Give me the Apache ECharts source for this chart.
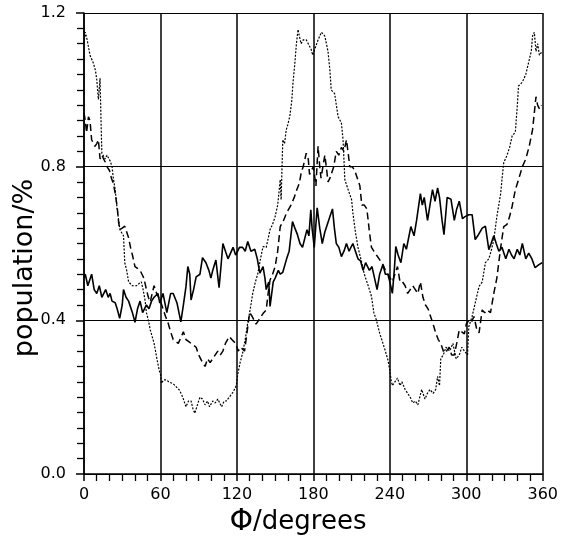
<!DOCTYPE html>
<html>
<head>
<meta charset="utf-8">
<script src="https://cdn.jsdelivr.net/npm/echarts@6/dist/echarts.min.js"></script>
<style>html,body{margin:0;padding:0;background:#fff}#c{width:561px;height:539px}</style>
</head>
<body>
<div id="c"></div>
<script>
const xTicks = [0, 60, 120, 180, 240, 300, 360];
const yTicks = [0.0, 0.4, 0.8, 1.2];
const xTitle = 'Φ/degrees';
const yTitle = 'population/%';

const solid = [[0,0.51],[1,0.52],[3,0.49],[6,0.52],[8,0.48],[10,0.47],[12,0.49],[14,0.46],[17,0.48],[19,0.46],[20.5,0.47],[22,0.45],[24.5,0.446],[26,0.43],[28,0.405],[30,0.44],[31,0.48],[33,0.46],[35,0.45],[38,0.42],[40,0.395],[42,0.43],[44,0.45],[46,0.42],[47,0.425],[49,0.44],[51,0.43],[53,0.45],[55,0.46],[58,0.47],[59.5,0.445],[61,0.45],[62,0.47],[65,0.42],[68,0.47],[70,0.47],[73,0.445],[76,0.396],[78,0.44],[80,0.487],[81.5,0.54],[83,0.52],[84,0.453],[86,0.48],[88,0.513],[91,0.52],[93,0.563],[95.7,0.55],[98,0.53],[99.6,0.51],[101,0.53],[103.5,0.557],[106,0.485],[107.5,0.54],[109,0.6],[111,0.58],[113,0.56],[115,0.575],[117,0.59],[119,0.57],[120.6,0.58],[122,0.59],[124.5,0.59],[126.5,0.58],[128.5,0.605],[131,0.58],[134,0.585],[136,0.56],[138,0.523],[140.5,0.54],[142,0.51],[143,0.48],[145,0.50],[146,0.436],[148.5,0.5],[150,0.51],[152.5,0.53],[154,0.52],[156,0.525],[159,0.56],[161,0.58],[163.6,0.657],[165.5,0.64],[167.5,0.623],[169.5,0.6],[171.5,0.59],[173,0.61],[175,0.636],[176.5,0.62],[178,0.688],[179,0.64],[180.7,0.59],[182,0.65],[183,0.693],[185,0.64],[187,0.6],[189,0.63],[191,0.65],[193,0.67],[195,0.69],[196.5,0.64],[198,0.6],[200,0.59],[202,0.566],[204,0.58],[206,0.6],[208,0.58],[211,0.6],[213,0.58],[215,0.56],[217,0.555],[219,0.53],[221,0.55],[224,0.53],[226,0.54],[228,0.51],[230,0.48],[232,0.52],[234.6,0.545],[236.5,0.52],[238.5,0.52],[240,0.5],[242,0.47],[243.5,0.53],[244.7,0.592],[246.5,0.57],[248.7,0.55],[251,0.6],[253,0.585],[256.5,0.644],[259,0.62],[261,0.66],[264,0.73],[265.5,0.7],[267,0.72],[269.6,0.66],[271.5,0.7],[273.5,0.74],[275.5,0.71],[277.5,0.745],[279,0.72],[281,0.66],[282.5,0.623],[284,0.68],[285,0.72],[288,0.715],[290.6,0.66],[292.5,0.69],[294.5,0.71],[297,0.665],[299,0.67],[302,0.675],[304.6,0.675],[307,0.61],[309,0.62],[312.5,0.64],[315,0.645],[317.7,0.584],[319.5,0.6],[321.6,0.62],[323.5,0.6],[325.6,0.58],[328,0.59],[331,0.56],[333.5,0.585],[335.5,0.57],[337.5,0.56],[340,0.585],[342,0.57],[344,0.6],[346.7,0.56],[349,0.575],[351.5,0.56],[354,0.537],[357,0.545],[359.5,0.55]];

const dashed = [[0,0.94],[1,0.92],[2,0.888],[3.5,0.93],[4.7,0.92],[6,0.87],[7.5,0.86],[8.6,0.853],[10,0.86],[11.3,0.87],[12.6,0.82],[14,0.83],[15.4,0.82],[17,0.81],[18,0.8],[20,0.79],[21.5,0.77],[23,0.757],[24.5,0.73],[26,0.697],[27,0.66],[28,0.636],[30,0.64],[32,0.645],[33.5,0.63],[35,0.615],[36.5,0.59],[38,0.57],[40,0.54],[42,0.535],[44,0.53],[45.5,0.52],[47,0.51],[49,0.48],[50.5,0.46],[52,0.448],[53.5,0.47],[55,0.49],[57,0.47],[58.5,0.46],[60,0.45],[62,0.43],[64,0.41],[66,0.393],[68,0.37],[70,0.35],[72,0.345],[74,0.34],[76,0.355],[78,0.37],[80,0.35],[82,0.345],[84,0.34],[86,0.335],[88,0.33],[90,0.31],[91,0.305],[93,0.29],[95,0.28],[97,0.3],[99,0.29],[101,0.3],[103,0.31],[105,0.32],[107,0.31],[109,0.32],[111,0.34],[114,0.358],[116,0.35],[117,0.35],[119,0.34],[121,0.32],[123,0.33],[126,0.32],[128,0.37],[130,0.42],[132,0.41],[135,0.39],[137,0.4],[139,0.41],[141,0.42],[143,0.427],[144.5,0.47],[146,0.505],[148,0.52],[150,0.54],[152,0.58],[154,0.644],[156.6,0.66],[159,0.68],[162,0.697],[165,0.72],[167,0.74],[169,0.757],[170.4,0.783],[172,0.8],[174.4,0.835],[176,0.82],[177,0.78],[178.5,0.79],[180,0.8],[182,0.75],[183.7,0.853],[185,0.8],[186,0.77],[187.5,0.8],[189,0.83],[190.5,0.79],[191.5,0.76],[193,0.77],[194,0.77],[196,0.8],[198,0.84],[200,0.83],[202,0.85],[204,0.84],[206,0.87],[207.5,0.83],[208.6,0.8],[210.5,0.8],[212.5,0.79],[214.5,0.77],[216.5,0.75],[218,0.7],[220,0.7],[222,0.69],[224,0.63],[225.6,0.59],[227.5,0.58],[229.5,0.57],[231.6,0.56],[234.6,0.545],[236.5,0.53],[238.5,0.52],[240,0.52],[242,0.5],[244,0.52],[246,0.54],[248,0.5],[250,0.5],[252,0.49],[254,0.47],[256,0.48],[258,0.49],[260,0.48],[262,0.47],[264,0.5],[266,0.46],[268,0.44],[270,0.43],[272,0.41],[274,0.39],[276,0.367],[278,0.35],[280,0.34],[282.5,0.315],[284.5,0.32],[286.6,0.33],[288.5,0.31],[290.6,0.31],[292.5,0.34],[294.5,0.375],[296.5,0.37],[298.5,0.365],[300,0.39],[302,0.4],[304,0.395],[306,0.41],[308,0.38],[310,0.367],[312.5,0.427],[314.5,0.42],[316.5,0.427],[319,0.42],[321.6,0.47],[324,0.51],[325.5,0.55],[327,0.59],[329.4,0.644],[332,0.65],[334,0.67],[336,0.697],[338.5,0.74],[341,0.766],[344,0.8],[346.7,0.82],[349.4,0.853],[352,0.896],[353.4,0.94],[354.7,0.982],[356,0.96],[357.5,0.95],[359,0.96]];

const dotted = [[0,1.12],[1,1.15],[2.5,1.13],[4.7,1.09],[7.3,1.07],[9,1.05],[10,1.027],[11.3,0.975],[12.6,1.03],[13.5,0.9],[14,0.835],[15.5,0.83],[16.6,0.82],[18,0.83],[19,0.83],[20.5,0.815],[22,0.8],[23,0.77],[24.5,0.74],[26,0.69],[28.2,0.636],[29.5,0.64],[31,0.62],[32,0.55],[33.5,0.53],[35,0.5],[38,0.49],[41.2,0.49],[43,0.495],[45,0.5],[46.4,0.48],[48,0.45],[49,0.42],[50.5,0.4],[52,0.375],[55,0.34],[57.4,0.297],[59,0.27],[60,0.26],[60.8,0.236],[62.5,0.245],[64.7,0.245],[66.5,0.24],[68,0.24],[70,0.235],[72,0.228],[75,0.218],[77.5,0.2],[80,0.175],[82,0.19],[84,0.19],[85.5,0.17],[87,0.158],[89,0.18],[91,0.2],[93,0.195],[95,0.18],[97,0.19],[98.5,0.175],[101,0.19],[103,0.185],[105,0.195],[106.5,0.185],[108,0.175],[110,0.19],[111.6,0.19],[114,0.2],[117,0.213],[119.5,0.23],[120.6,0.258],[122.5,0.29],[124.5,0.315],[126.5,0.35],[128.5,0.393],[130.5,0.43],[132.4,0.47],[134.5,0.5],[136.3,0.52],[138.5,0.56],[140.5,0.592],[143,0.59],[146,0.636],[148,0.65],[150,0.67],[152,0.7],[154,0.766],[154.7,0.714],[156,0.87],[157.4,0.86],[158.7,0.896],[160,0.91],[161.5,0.931],[163,0.97],[164,1.018],[165.5,1.07],[166.7,1.12],[168,1.157],[169,1.14],[170.4,1.12],[172,1.13],[174.4,1.13],[176,1.12],[178.3,1.105],[179.5,1.09],[181,1.105],[182.5,1.11],[183.7,1.13],[186.3,1.15],[189,1.14],[191.5,1.1],[193,1.05],[194,1.0],[196.7,0.99],[199.4,0.93],[202,0.914],[203.3,0.87],[204.7,0.766],[207.3,0.74],[210,0.714],[211,0.68],[213,0.63],[215,0.59],[218,0.55],[220,0.52],[222,0.5],[224,0.48],[225.6,0.462],[227.5,0.42],[229.5,0.4],[232,0.367],[234.6,0.34],[236.5,0.32],[238.5,0.297],[240,0.27],[241,0.245],[242,0.23],[244,0.24],[246,0.25],[248,0.23],[249.5,0.24],[252,0.22],[254,0.21],[256,0.2],[258,0.185],[260,0.19],[262,0.18],[263.5,0.2],[265,0.22],[267.6,0.195],[269.5,0.21],[271.5,0.22],[274,0.21],[276,0.22],[277.5,0.254],[279,0.23],[280,0.3],[282,0.31],[284,0.33],[287,0.32],[289.5,0.34],[292,0.3],[294.5,0.31],[296.5,0.33],[298.5,0.32],[301,0.31],[302,0.384],[304.6,0.41],[307,0.445],[310,0.488],[312.5,0.5],[315,0.55],[317.7,0.56],[319.5,0.58],[321.6,0.61],[324,0.67],[327,0.73],[328,0.766],[329.4,0.81],[332,0.83],[334,0.85],[336,0.88],[338.5,0.89],[340,0.956],[341,1.01],[344,1.02],[346.7,1.04],[349.4,1.078],[351,1.1],[352,1.14],[353.4,1.15],[354.7,1.1],[356,1.12],[357.4,1.09],[359.5,1.1]];

const FONT = 'DejaVu Sans';
const chart = echarts.init(document.getElementById('c'), null, {renderer: 'canvas'});
chart.setOption({
  animation: false,
  backgroundColor: '#fff',
  grid: {left: 84, right: 17, top: 13, bottom: 65},
  xAxis: {
    type: 'value', min: xTicks[0], max: xTicks[xTicks.length - 1], interval: xTicks[1] - xTicks[0],
    axisLine: {show: true, onZero: false, lineStyle: {color: '#000', width: 1.5}},
    axisTick: {show: true, inside: false, length: 7, lineStyle: {color: '#000', width: 1.5}},
    minorTick: {show: true, splitNumber: 6, length: 7, lineStyle: {color: '#000', width: 1.3}},
    splitLine: {show: true, lineStyle: {color: '#000', width: 1.5}},
    axisLabel: {color: '#000', fontSize: 16, fontFamily: FONT, margin: 13}
  },
  yAxis: {
    type: 'value', min: yTicks[0], max: yTicks[yTicks.length - 1], interval: yTicks[1] - yTicks[0],
    axisLine: {show: true, onZero: false, lineStyle: {color: '#000', width: 1.5}},
    axisTick: {show: true, inside: false, length: 8, lineStyle: {color: '#000', width: 1.5}},
    minorTick: {show: true, splitNumber: 10, length: 7, lineStyle: {color: '#000', width: 1.3}},
    splitLine: {show: true, lineStyle: {color: '#000', width: 1.2}},
    axisLabel: {color: '#000', fontSize: 16, fontFamily: FONT, margin: 18, formatter: v => v.toFixed(1)}
  },
  graphic: [
    {type: 'text', x: 25, y: 268, rotation: Math.PI / 2,
     style: {text: yTitle, fill: '#000', font: '27px "' + FONT + '"', align: 'center', verticalAlign: 'middle'}},
    {type: 'text', x: 298, y: 522,
     style: {text: '{p|' + xTitle.charAt(0) + '}' + xTitle.slice(1), fill: '#000', font: '26px "' + FONT + '"', align: 'center', verticalAlign: 'middle',
       rich: {p: {fontSize: 30, fontFamily: FONT, fill: '#000'}}}}
  ],
  series: [
    {type: 'line', data: solid, showSymbol: false, symbol: 'none', lineStyle: {color: '#000', width: 1.6, type: 'solid'}, z: 3},
    {type: 'line', data: dashed, showSymbol: false, symbol: 'none', lineStyle: {color: '#000', width: 1.5, type: [7, 4]}, z: 3},
    {type: 'line', data: dotted, showSymbol: false, symbol: 'none', lineStyle: {color: '#000', width: 1.2, type: [2, 1.5]}, z: 3}
  ]
});
</script>
</body>
</html>
